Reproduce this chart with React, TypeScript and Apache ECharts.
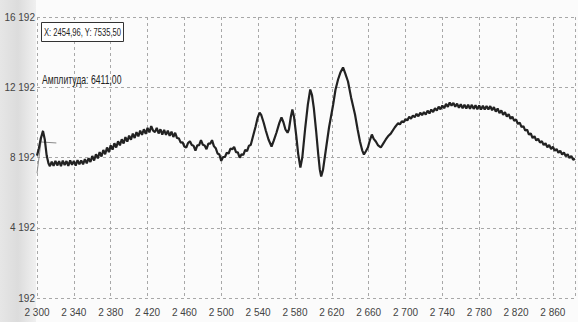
import React, { useEffect, useRef } from "react";
import * as echarts from "echarts";

// [frequency, amplitude] samples, segment by segment
const spikeSegment: [number, number][] = [
  [2300, 8300], [2302, 8700], [2304, 9250], [2306.5, 9700], [2308.5, 9200], [2310.5, 8300], [2312.5, 7850],
  [2314, 7700], [2316, 7950], [2318, 7720], [2320, 8000], [2322, 7740], [2324, 7980], [2326, 7700],
  [2328, 8010], [2330, 7760], [2332, 7990], [2334, 7720], [2336, 8030], [2338, 7780], [2340, 8000],
  [2342, 7730], [2344, 8040], [2346, 7800], [2348, 8020], [2350, 7800], [2352, 8100], [2354, 7860], [2356, 8150],
];

const riseSegment: [number, number][] = [
  [2358, 7940], [2360, 8280], [2362, 8020], [2364, 8380], [2366, 8140], [2368, 8500], [2370, 8250],
  [2372, 8620], [2374, 8380], [2376, 8760], [2378, 8500], [2380, 8880], [2382, 8640], [2384, 9000],
  [2386, 8760], [2388, 9120], [2390, 8880], [2392, 9230], [2394, 8990], [2396, 9350], [2398, 9100],
  [2400, 9440], [2402, 9200], [2404, 9550], [2406, 9300], [2408, 9640], [2410, 9400], [2412, 9720],
  [2414, 9480], [2416, 9800], [2418, 9540], [2420, 9880], [2422, 9620], [2424, 9980], [2426, 9720],
  [2428, 9640], [2430, 9880], [2432, 9560], [2434, 9800], [2436, 9500], [2438, 9760], [2440, 9480],
  [2442, 9720], [2444, 9420], [2446, 9660], [2448, 9360], [2450, 9600], [2452, 9300],
];

const wobbleSegment: [number, number][] = [
  [2454, 9280], [2456, 9040], [2458, 9060], [2460, 8820], [2462, 8760], [2464, 9020], [2466, 9120],
  [2468, 8900], [2470, 8860], [2472, 8580], [2474, 8880], [2476, 8900], [2478, 9180], [2480, 8920],
  [2482, 8880], [2484, 8660], [2486, 8980], [2488, 8980], [2490, 9180], [2492, 8840], [2494, 8720],
  [2496, 8420], [2498, 8360], [2500, 8000], [2502, 8220], [2504, 8220], [2506, 8460], [2508, 8420],
  [2510, 8700], [2512, 8660], [2514, 8800], [2516, 8500], [2518, 8480], [2520, 8180], [2522, 8380],
  [2524, 8340], [2526, 8620], [2528, 8560], [2530, 8860], [2532, 8900],
];

const oscillationSegment: [number, number][] = [
  [2535, 9500], [2537.3, 9957], [2539.5, 10450], [2541.6, 10754], [2543.5, 10600], [2546, 10185],
  [2548.5, 9700], [2551.3, 9217], [2554.6, 8818], [2557, 9150], [2560, 9616], [2563, 10150],
  [2565.4, 10470], [2567.5, 10200], [2569.7, 9786], [2572, 9600], [2573.5, 9800], [2575.5, 10500],
  [2577.2, 10925], [2579, 10500], [2581.5, 9400], [2583.5, 8400], [2585.9, 7623], [2588, 8200],
  [2591.2, 9900], [2594, 11200], [2596.6, 12064], [2598.5, 11750], [2600.5, 11000], [2603, 9700],
  [2605.3, 8363], [2607, 7500], [2608.5, 7110], [2610.5, 7500], [2613.9, 8761], [2617, 9900],
  [2621.5, 11210], [2624, 12050], [2626.8, 12633], [2629.5, 13050], [2632.2, 13317], [2634.5, 13000],
  [2637.6, 12519], [2641, 11600], [2645.2, 10640], [2648, 9800], [2650.6, 9103], [2653, 8600],
  [2654.9, 8363], [2657, 8550], [2659.2, 8761], [2661.5, 9200], [2663.5, 9502], [2665.5, 9250],
  [2667.8, 9103], [2670, 8900], [2673.2, 8761], [2676, 9000], [2678.6, 9217], [2681, 9400],
  [2684, 9550], [2688.3, 9900],
];

const humpSegment: [number, number][] = [
  [2692, 10150], [2694, 10080], [2696, 10260], [2698, 10200], [2700, 10380], [2702, 10300],
  [2704, 10520], [2706, 10400], [2708, 10580], [2710, 10480], [2712, 10680], [2714, 10540],
  [2716, 10740], [2718, 10600], [2720, 10780], [2722, 10640], [2724, 10860], [2726, 10700],
  [2728, 10920], [2730, 10780], [2732, 11000], [2734, 10860], [2736, 11080], [2738, 10940],
  [2740, 11150], [2742, 11000], [2744, 11240], [2746, 11080], [2748, 11320], [2750, 11150],
  [2752, 11300], [2754, 11080], [2756, 11260], [2758, 11020], [2760, 11220], [2762, 11000],
  [2764, 11200], [2766, 10980], [2768, 11200], [2770, 10970], [2772, 11190], [2774, 10960],
  [2776, 11170], [2778, 10940], [2780, 11150], [2782, 10930], [2784, 11140], [2786, 10920],
  [2788, 11130], [2790, 10920], [2792, 11120], [2794, 10880], [2796, 11060], [2798, 10800],
  [2800, 10980], [2802, 10720], [2804, 10880], [2806, 10620], [2808, 10780], [2810, 10520],
  [2812, 10660], [2814, 10400], [2816, 10520], [2818, 10280], [2820, 10360], [2822, 10100],
  [2824, 10180], [2826, 9920], [2828, 9980], [2830, 9720], [2832, 9780], [2834, 9500],
  [2836, 9560], [2838, 9300], [2840, 9400], [2842, 9160], [2844, 9260], [2846, 9040],
  [2848, 9120], [2850, 8900], [2852, 9000], [2854, 8780], [2856, 8900], [2858, 8680],
  [2860, 8800], [2862, 8580], [2864, 8680], [2866, 8460], [2868, 8580], [2870, 8360],
  [2872, 8480], [2874, 8260], [2876, 8380], [2878, 8160], [2880, 8280], [2882, 8060], [2884, 8120],
];

// thin cursor marker drawn near the start of the trace
const cursorRise: [number, number][] = [[2300, 7300], [2306, 9750]];
const cursorBar: [number, number][] = [[2303, 9080], [2321, 9020]];

const xMin = 2300;
const xMax = 2884;
const xStep = 40;
const yMin = 192;
const yMax = 16192;
const yStep = 4000;

const cursorText = "X: 2454,96, Y: 7535,50";
const amplitudeText = "Амплитуда: 6411,00";

const FONT = "'Liberation Sans', Arial, sans-serif";

const fmt = (v: number) => String(Math.round(v)).replace(/\B(?=(\d{3})+(?!\d))/g, " ");

export default function App() {
  const ref = useRef<HTMLDivElement>(null);

  useEffect(() => {
    if (!ref.current) return;
    const chart = echarts.init(ref.current, null, { renderer: "svg" });
    const data = [
      ...spikeSegment,
      ...riseSegment,
      ...wobbleSegment,
      ...oscillationSegment,
      ...humpSegment,
    ];
    const splitStyle = { color: "#a8a8a8", width: 1, type: [3, 3] as number[] };
    const thin = {
      type: "line",
      showSymbol: false,
      symbol: "none",
      silent: true,
      lineStyle: { color: "#8a8a8a", width: 1 },
    };
    chart.setOption({
      animation: false,
      backgroundColor: "#fbfbfb",
      grid: { left: 37, right: 0, top: 17, bottom: 24, containLabel: false },
      graphic: [
        {
          type: "rect",
          z: -10,
          silent: true,
          shape: { x: 0, y: 0, width: 36, height: 322 },
          style: {
            fill: new echarts.graphic.LinearGradient(0, 0, 1, 0, [
              { offset: 0, color: "#e6e6e6" },
              { offset: 0.5, color: "#dcdcdc" },
              { offset: 1, color: "#f0f0f0" },
            ]),
          },
        },
        {
          type: "rect",
          z: 10,
          shape: { x: 41.5, y: 22.5, width: 82, height: 19 },
          style: { fill: "#ffffff", stroke: "#333333", lineWidth: 1 },
        },
        {
          type: "text",
          z: 11,
          x: 44,
          y: 32,
          scaleX: 0.69,
          style: {
            text: cursorText,
            fill: "#222222",
            font: `11px ${FONT}`,
            verticalAlign: "middle",
          },
        },
        {
          type: "text",
          z: 11,
          x: 42,
          y: 80,
          scaleX: 0.72,
          style: {
            text: amplitudeText,
            fill: "#222222",
            font: `12px ${FONT}`,
            verticalAlign: "middle",
          },
        },
      ],
      xAxis: {
        type: "value",
        min: xMin,
        max: xMax,
        interval: xStep,
        axisLine: { show: false },
        axisTick: { show: false },
        splitLine: { show: true, lineStyle: splitStyle },
        axisLabel: {
          color: "#444444",
          fontFamily: FONT,
          fontSize: 10,
          margin: 9,
          formatter: (v: number) => ((v - xMin) % xStep === 0 ? fmt(v) : ""),
        },
      },
      yAxis: {
        type: "value",
        min: yMin,
        max: yMax,
        interval: yStep,
        axisLine: { show: false },
        axisTick: { show: false },
        splitLine: { show: true, lineStyle: splitStyle },
        axisLabel: {
          color: "#444444",
          fontFamily: FONT,
          fontSize: 10,
          margin: 2,
          formatter: (v: number) => fmt(v),
        },
      },
      series: [
        { ...thin, data: cursorRise },
        { ...thin, data: cursorBar },
        {
          type: "line",
          data,
          showSymbol: false,
          symbol: "none",
          smooth: false,
          lineStyle: { color: "#222222", width: 2.2 },
        },
      ],
    });
    return () => chart.dispose();
  }, []);

  return (
    <div
      ref={ref}
      style={{ position: "fixed", left: 0, top: 0, width: 578, height: 322 }}
    />
  );
}
